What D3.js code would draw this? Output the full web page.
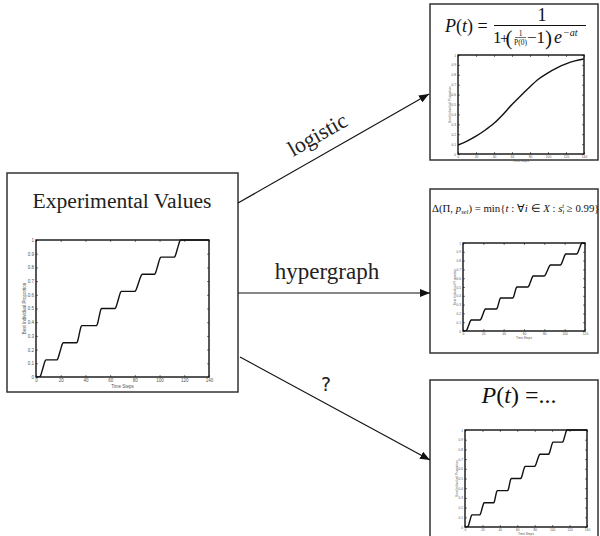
<!DOCTYPE html>
<html>
<head>
<meta charset="utf-8">
<script src="https://cdn.jsdelivr.net/npm/d3@7/dist/d3.min.js"></script>
<style>
  body { margin: 0; background: #fff; }
  .tick text { font-family: "Liberation Sans", Arial, sans-serif; }
</style>
</head>
<body>
<div id="chart"></div>
<script>
// stair-shaped measured curve (time steps vs best individual proportion)
var stepTime = [0, 3, 3.8, 5.5, 7.2, 8,
  17, 17.8, 19.5, 21.2, 22,
  33, 33.7, 35, 36.3, 37,
  49, 49.7, 51, 52.3, 53,
  64, 64.8, 66.5, 68.2, 69,
  80, 81, 83, 85, 86,
  96, 96.8, 98.5, 100.2, 101,
  112, 112.8, 114.5, 116.2, 117, 140];
var stepProp = [0, 0, 0.012, 0.0625, 0.113, 0.125,
  0.125, 0.137, 0.1875, 0.238, 0.25,
  0.25, 0.262, 0.3125, 0.363, 0.375,
  0.375, 0.387, 0.4375, 0.488, 0.5,
  0.5, 0.512, 0.5625, 0.613, 0.625,
  0.625, 0.637, 0.6875, 0.738, 0.75,
  0.75, 0.762, 0.8125, 0.863, 0.875,
  0.875, 0.887, 0.9375, 0.988, 1, 1];

// logistic fit curve
var logTime = [0, 10, 20, 30, 40, 50, 60, 70, 80, 90, 100, 110, 120, 130, 140];
var logProp = [0.09, 0.13, 0.18, 0.24, 0.31, 0.40, 0.50, 0.59, 0.68, 0.76, 0.82, 0.87, 0.91, 0.94, 0.96];

var yTicks = [0, 0.1, 0.2, 0.3, 0.4, 0.5, 0.6, 0.7, 0.8, 0.9, 1];
var xTicks140 = [0, 20, 40, 60, 80, 100, 120, 140];
var xTicks120 = [0, 20, 40, 60, 80, 100, 120];

var arrowLabels = ["logistic", "hypergraph", "?"];

var width = 600;
var height = 536;

var svg = d3.select("#chart")
  .append("svg")
  .attr("width", width)
  .attr("height", height);

svg.append("defs").append("marker")
  .attr("id", "arrow")
  .attr("viewBox", "0 0 10 8")
  .attr("refX", 10)
  .attr("refY", 4)
  .attr("markerWidth", 10)
  .attr("markerHeight", 8)
  .attr("markerUnits", "userSpaceOnUse")
  .attr("orient", "auto")
  .append("path")
  .attr("d", "M0,0L10,4L0,8z")
  .attr("fill", "#111");

// boxes
function box(x0, y0, x1, y1) {
  svg.append("rect")
    .attr("x", x0).attr("y", y0)
    .attr("width", x1 - x0).attr("height", y1 - y0)
    .attr("fill", "none")
    .attr("stroke", "#333")
    .attr("stroke-width", 1.5);
}
box(7, 173, 238, 392);
box(430, 4, 598, 160);
box(430, 189, 598, 353);
box(430, 380, 598, 545);

var clipId = 0;
function drawPlot(b, xMax, xTicks, tVals, pVals, fs) {
  var x = d3.scaleLinear().domain([0, xMax]).range([b.x0, b.x1]);
  var y = d3.scaleLinear().domain([0, 1]).range([b.y1, b.y0]);
  var g = svg.append("g");
  var ts = 2;

  g.append("g")
    .attr("transform", "translate(0," + b.y1 + ")")
    .call(d3.axisBottom(x).tickValues(xTicks).tickSizeInner(-ts).tickSizeOuter(0).tickPadding(2));
  g.append("g")
    .attr("transform", "translate(" + b.x0 + ",0)")
    .call(d3.axisLeft(y).tickValues(yTicks).tickFormat(d => d).tickSizeInner(-ts).tickSizeOuter(0).tickPadding(2));
  g.append("g")
    .attr("transform", "translate(0," + b.y0 + ")")
    .call(d3.axisTop(x).tickValues(xTicks).tickFormat("").tickSizeInner(-ts).tickSizeOuter(0));
  g.append("g")
    .attr("transform", "translate(" + b.x1 + ",0)")
    .call(d3.axisRight(y).tickValues(yTicks).tickFormat("").tickSizeInner(-ts).tickSizeOuter(0));

  g.selectAll(".domain").remove();
  g.selectAll(".tick line").attr("stroke", "#222").attr("stroke-width", 0.6);
  g.selectAll(".tick text").attr("font-size", fs).attr("fill", "#555");

  clipId += 1;
  g.append("clipPath").attr("id", "clip" + clipId)
    .append("rect")
    .attr("x", b.x0).attr("y", b.y0 - 1)
    .attr("width", b.x1 - b.x0).attr("height", b.y1 - b.y0 + 1);

  var pts = tVals.map((t, i) => [t, pVals[i]]);
  g.append("path")
    .datum(pts)
    .attr("clip-path", "url(#clip" + clipId + ")")
    .attr("fill", "none")
    .attr("stroke", "#111")
    .attr("stroke-width", 1.4)
    .attr("d", d3.line()
      .x(d => x(d[0]))
      .y(d => y(d[1]))
      .curve(d3.curveMonotoneX));

  g.append("rect")
    .attr("x", b.x0).attr("y", b.y0)
    .attr("width", b.x1 - b.x0).attr("height", b.y1 - b.y0)
    .attr("fill", "none")
    .attr("stroke", "#111")
    .attr("stroke-width", 1.4);

  // axis titles
  g.append("text")
    .attr("x", (b.x0 + b.x1) / 2)
    .attr("y", b.y1 + fs * 2.4)
    .attr("text-anchor", "middle")
    .attr("font-family", "Liberation Sans, Arial, sans-serif")
    .attr("font-size", fs)
    .attr("fill", "#555")
    .text("Time Steps");
  g.append("text")
    .attr("transform", "translate(" + (b.x0 - fs * 2.3) + "," + ((b.y0 + b.y1) / 2) + ") rotate(-90)")
    .attr("text-anchor", "middle")
    .attr("font-family", "Liberation Sans, Arial, sans-serif")
    .attr("font-size", fs)
    .attr("fill", "#555")
    .text("Best Individual Proportion");
}

drawPlot({ x0: 36, y0: 240, x1: 209, y1: 377 }, 140, xTicks140, stepTime, stepProp, 4.5);
drawPlot({ x0: 458, y0: 55, x1: 584, y1: 154 }, 140, xTicks140, logTime, logProp, 3.2);
drawPlot({ x0: 463, y0: 243, x1: 585, y1: 331 }, 120, xTicks120, stepTime, stepProp, 3.2);
drawPlot({ x0: 465, y0: 430, x1: 587, y1: 527 }, 140, xTicks140, stepTime, stepProp, 3.2);

var serif = "Liberation Serif, Times New Roman, serif";

// left box title
svg.append("text")
  .attr("x", 122).attr("y", 208)
  .attr("text-anchor", "middle")
  .attr("font-family", serif)
  .attr("font-size", 21.6)
  .attr("fill", "#222")
  .text("Experimental Values");

// arrows
function arrow(x1, y1, x2, y2) {
  svg.append("line")
    .attr("x1", x1).attr("y1", y1)
    .attr("x2", x2).attr("y2", y2)
    .attr("stroke", "#111")
    .attr("stroke-width", 1.2)
    .attr("marker-end", "url(#arrow)");
}
arrow(238, 203, 429, 94);
arrow(238, 293, 430, 293);
arrow(240, 357, 430, 460);

svg.append("text")
  .attr("transform", "translate(321,141) rotate(-29.8)")
  .attr("text-anchor", "middle")
  .attr("font-family", serif)
  .attr("font-size", 22)
  .attr("fill", "#222")
  .text(arrowLabels[0]);

svg.append("text")
  .attr("x", 327).attr("y", 279)
  .attr("text-anchor", "middle")
  .attr("font-family", serif)
  .attr("font-size", 23)
  .attr("fill", "#222")
  .text(arrowLabels[1]);

svg.append("text")
  .attr("x", 326).attr("y", 391)
  .attr("text-anchor", "middle")
  .attr("font-family", "DejaVu Sans, sans-serif")
  .attr("font-size", 19)
  .attr("fill", "#222")
  .text(arrowLabels[2]);

// logistic formula
var f = svg.append("g").attr("font-family", serif).attr("fill", "#111");
f.append("text").attr("x", 445).attr("y", 32).attr("font-size", 18)
  .html('<tspan font-style="italic">P</tspan>(<tspan font-style="italic">t</tspan>) =');
f.append("text").attr("x", 542).attr("y", 21).attr("font-size", 18).attr("text-anchor", "middle").text("1");
f.append("line").attr("x1", 494).attr("x2", 586).attr("y1", 25.5).attr("y2", 25.5).attr("stroke", "#111").attr("stroke-width", 1);
f.append("text").attr("x", 493).attr("y", 43).attr("font-size", 17).text("1");
f.append("text").attr("x", 500).attr("y", 43).attr("font-size", 15).text("+");
f.append("text").attr("x", 505.5).attr("y", 44.5).attr("font-size", 21).text("(");
f.append("text").attr("x", 520.5).attr("y", 35.5).attr("font-size", 7.5).attr("text-anchor", "middle").text("1");
f.append("line").attr("x1", 515).attr("x2", 526).attr("y1", 37.5).attr("y2", 37.5).attr("stroke", "#111").attr("stroke-width", 0.6);
f.append("text").attr("x", 520.5).attr("y", 45).attr("font-size", 7.5).attr("text-anchor", "middle").text("P(0)");
f.append("text").attr("x", 527).attr("y", 43).attr("font-size", 17).text("\u22121");
f.append("text").attr("x", 545).attr("y", 44.5).attr("font-size", 21).text(")");
f.append("text").attr("x", 554).attr("y", 43).attr("font-size", 18).attr("font-style", "italic").text("e");
f.append("text").attr("x", 563).attr("y", 36).attr("font-size", 10).attr("font-style", "italic").text("\u2212at");

// hypergraph formula
svg.append("text")
  .attr("x", 432).attr("y", 212)
  .attr("font-family", serif)
  .attr("font-size", 10.8)
  .attr("fill", "#111")
  .html('\u0394(\u03A0, <tspan font-style="italic">p</tspan><tspan font-size="6.5" dy="2" font-style="italic">sel</tspan><tspan dy="-2">) = min{</tspan><tspan font-style="italic">t</tspan> : \u2200<tspan font-style="italic">i</tspan> \u2208 <tspan font-style="italic">X</tspan> : <tspan font-style="italic">s</tspan><tspan font-size="6.5" dy="2" font-style="italic">i</tspan><tspan font-size="6.5" dy="-6" dx="-2" font-style="italic">t</tspan><tspan dy="4"> \u2265 0.99}</tspan>');

// unknown formula
svg.append("text")
  .attr("x", 519).attr("y", 403)
  .attr("text-anchor", "middle")
  .attr("font-family", serif)
  .attr("font-size", 24)
  .attr("fill", "#111")
  .html('<tspan font-style="italic">P</tspan>(<tspan font-style="italic">t</tspan>) =...');
</script>
</body>
</html>
